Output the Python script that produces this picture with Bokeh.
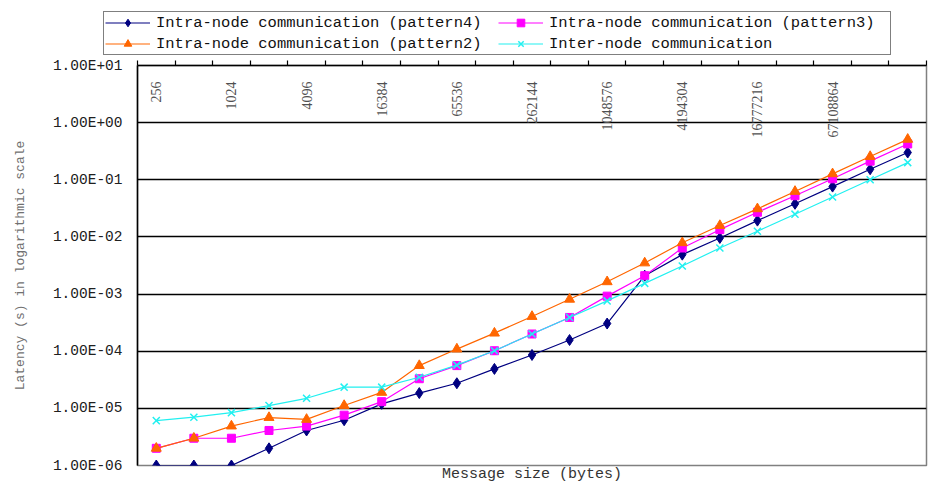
from math import pi
from bokeh.plotting import figure
from bokeh.layouts import column
from bokeh.models import FixedTicker, LinearAxis, Legend, LegendItem, Range1d
from bokeh.core.properties import value
from bokeh.embed import file_html
from bokeh.resources import INLINE

message_sizes = [256, 512, 1024, 2048, 4096, 8192, 16384, 32768, 65536, 131072,
                 262144, 524288, 1048576, 2097152, 4194304, 8388608, 16777216,
                 33554432, 67108864, 134217728, 268435456]
x_tick_labels = ["256", "1024", "4096", "16384", "65536", "262144", "1048576",
                 "4194304", "16777216", "67108864"]

pattern4 = [1.0e-6, 1.0e-6, 1.0e-6, 2.0e-6, 4.1e-6, 6.2e-6, 1.2e-5, 1.85e-5, 2.75e-5,
            4.9e-5, 8.6e-5, 1.57e-4, 3.05e-4, 2.1e-3, 4.9e-3, 9.6e-3, 1.93e-2,
            3.8e-2, 7.6e-2, 0.153, 0.30]
pattern3 = [2.0e-6, 3.0e-6, 3.0e-6, 4.1e-6, 4.9e-6, 7.6e-6, 1.31e-5, 3.3e-5, 5.6e-5,
            1.02e-4, 2.0e-4, 3.9e-4, 9.2e-4, 2.1e-3, 6.4e-3, 1.34e-2, 2.7e-2,
            5.25e-2, 0.104, 0.212, 0.424]
pattern2 = [2.0e-6, 3.0e-6, 4.9e-6, 6.9e-6, 6.4e-6, 1.12e-5, 1.9e-5, 5.6e-5, 1.09e-4,
            2.07e-4, 4.05e-4, 8.1e-4, 1.64e-3, 3.5e-3, 7.9e-3, 1.58e-2, 3.1e-2,
            6.25e-2, 0.127, 0.255, 0.51]
inter_node = [6.1e-6, 7.0e-6, 8.4e-6, 1.12e-5, 1.5e-5, 2.35e-5, 2.35e-5, 3.5e-5, 5.7e-5,
              1.02e-4, 2.0e-4, 3.9e-4, 7.6e-4, 1.54e-3, 3.1e-3, 6.4e-3, 1.26e-2,
              2.5e-2, 5.0e-2, 0.1, 0.2]

y_ticks = [1e-6, 1e-5, 1e-4, 1e-3, 1e-2, 1e-1, 1e0, 1e1]
y_tick_labels = ["1.00E-06", "1.00E-05", "1.00E-04", "1.00E-03", "1.00E-02",
                 "1.00E-01", "1.00E+00", "1.00E+01"]

series_names = ["Intra-node communication (pattern4)",
                "Intra-node communication (pattern3)",
                "Intra-node communication (pattern2)",
                "Inter-node communication"]
series_colors = ["#000080", "#FF00FF", "#FF6600", "#22F0F0"]
series_markers = ["diamond", "square", "triangle", "x"]
series_sizes = [11, 8, 10, 10]
series_values = [pattern4, pattern3, pattern2, inter_node]

n = len(message_sizes)
xs = list(range(n))
W = 928


def add_series(fig):
    out = []
    for name, col, mk, sz, vals in zip(series_names, series_colors, series_markers,
                                       series_sizes, series_values):
        r1 = fig.line(xs, vals, line_color=col, line_width=1.2)
        if mk == "x":
            r2 = fig.scatter(xs, vals, marker=mk, size=sz, line_color=col, line_width=1.5)
        else:
            r2 = fig.scatter(xs, vals, marker=mk, size=sz, fill_color=col, line_color=col)
        out.append(LegendItem(label=name, renderers=[r1, r2]))
    return out


# ---------- legend strip (its data lies outside its visible range) ----------
lg = figure(width=W, height=57, x_axis_location=None, y_axis_location=None,
            x_range=Range1d(0, 1), y_range=Range1d(100, 101),
            output_backend="svg", toolbar_location=None,
            min_border_left=0, min_border_right=0, min_border_top=0, min_border_bottom=0)
lg.frame_align = False
lg.outline_line_color = None
lg.xgrid.visible = False
lg.ygrid.visible = False
legend_items = add_series(lg)
legend = Legend(items=legend_items, orientation="horizontal", ncols=2,
                location=(103, 2), margin=0, padding=1, spacing=2,
                glyph_width=45, glyph_height=19, label_height=19, label_width=340,
                label_standoff=6, label_text_font="Liberation Mono",
                label_text_font_size="15.5px", label_text_color="#111111",
                border_line_color="black", border_line_width=1.2,
                background_fill_color="white", background_fill_alpha=1.0)
lg.add_layout(legend, "center")

# ---------- main chart ----------
p = figure(width=W, height=428, y_axis_type="log",
           x_range=Range1d(-0.5, n - 0.5), y_range=Range1d(y_ticks[0], y_ticks[-1]),
           x_axis_location="above", output_backend="svg", toolbar_location=None,
           min_border_left=137, min_border_right=2, min_border_top=8,
           min_border_bottom=18)
p.frame_align = False
p.outline_line_color = "#808080"
p.outline_line_width = 1.5

# top axis: ticks at category boundaries (as minor ticks, no labels)
xa = p.xaxis[0]
xa.ticker = FixedTicker(ticks=[], minor_ticks=[i - 0.5 for i in range(n + 1)])
xa.minor_tick_in = 0
xa.minor_tick_out = 5
xa.minor_tick_line_color = "black"
xa.minor_tick_line_width = 1.2
xa.major_tick_line_color = None
xa.major_label_standoff = 0
xa.axis_line_color = "black"
xa.axis_line_width = 1.5

# bottom axis carrying only the title
xb = LinearAxis(axis_label="Message size (bytes)",
                ticker=FixedTicker(ticks=[], minor_ticks=[]))
xb.axis_line_color = None
xb.major_tick_line_color = None
xb.minor_tick_line_color = None
xb.major_label_standoff = 0
xb.axis_label_standoff = 0
xb.axis_label_text_font = "Liberation Mono"
xb.axis_label_text_font_size = "15px"
xb.axis_label_text_font_style = "normal"
xb.axis_label_text_color = "#333333"
p.add_layout(xb, "below")

ya = p.yaxis[0]
ya.ticker = FixedTicker(ticks=y_ticks, minor_ticks=[])
ya.major_label_overrides = dict(zip(y_ticks, y_tick_labels))
ya.major_tick_in = 0
ya.major_tick_out = 0
ya.minor_tick_line_color = None
ya.axis_line_color = "black"
ya.axis_line_width = 1.5
ya.major_label_standoff = 15
ya.major_label_text_font = "Liberation Mono"
ya.major_label_text_font_size = "14.5px"
ya.major_label_text_color = "#202020"
ya.axis_label = "Latency (s) in logarithmic scale"
ya.axis_label_text_font = "Liberation Mono"
ya.axis_label_text_font_size = "13px"
ya.axis_label_text_font_style = "normal"
ya.axis_label_text_color = "#707070"
ya.axis_label_standoff = 22

p.xgrid.visible = False
p.ygrid.ticker = FixedTicker(ticks=y_ticks, minor_ticks=[])
p.ygrid.grid_line_color = "black"
p.ygrid.grid_line_width = 1.3

# category labels drawn inside the top band
label_x = [message_sizes.index(int(t)) for t in x_tick_labels]
p.text(x=label_x, y=[y_ticks[-1]] * len(label_x), text=x_tick_labels, angle=pi / 2,
       text_align="right", text_baseline="middle", y_offset=16,
       text_font=value("Liberation Serif"), text_font_size="14px",
       text_color="#505050")

add_series(p)

layout = column(lg, p, spacing=0)
open("out.html", "w").write(file_html(layout, INLINE))
